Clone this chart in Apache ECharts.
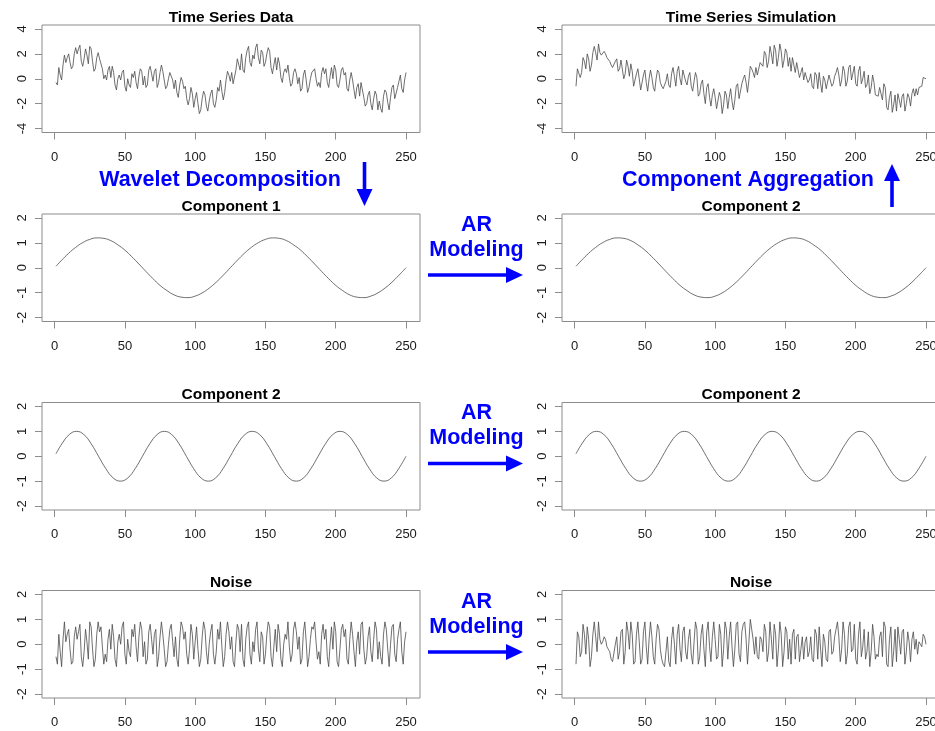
<!DOCTYPE html>
<html>
<head>
<meta charset="utf-8">
<script src="https://cdn.jsdelivr.net/npm/echarts@6/dist/echarts.min.js"></script>
<style>
html,body{margin:0;padding:0;background:#fff;}
#chart{width:935px;height:731px;}
</style>
</head>
<body>
<div id="chart"></div>
<script>
// ---------------- data ----------------
const xTicks = [0, 50, 100, 150, 200, 250];
const yTicksSeries = [-4, -2, 0, 2, 4];
const yTicksComp = [-2, -1, 0, 1, 2];

const panelTitles = [
  'Time Series Data', 'Time Series Simulation',
  'Component 1', 'Component 2',
  'Component 2', 'Component 2',
  'Noise', 'Noise'
];

// time steps of component 1
const comp1T = [1,5,10,15,20,25,30,35,40,45,50,55,60,65,70,75,80,85,90,95,100,105,110,115,120,125,
  130,135,140,145,150,155,160,165,170,175,180,185,190,195,200,205,210,215,220,225,230,235,240,245,250];
const component1 = [0.06,0.30,0.58,0.82,1.01,1.14,1.20,1.18,1.09,0.92,0.71,0.44,0.15,-0.15,-0.44,-0.71,-0.92,
  -1.09,-1.18,-1.20,-1.14,-1.01,-0.82,-0.58,-0.30,0.00,0.30,0.58,0.82,1.01,1.14,1.20,1.18,1.09,0.92,0.71,
  0.44,0.15,-0.15,-0.44,-0.71,-0.92,-1.09,-1.18,-1.20,-1.14,-1.01,-0.82,-0.58,-0.30,0.00];

// time steps of component 2
const comp2T = [1,5.21,10.42,15.63,20.83,26.04,31.25,36.46,41.67,46.88,52.08,57.29,62.5,67.71,72.92,78.13,
  83.33,88.54,93.75,98.96,104.17,109.38,114.58,119.79,125,130.21,135.42,140.63,145.83,151.04,156.25,161.46,
  166.67,171.88,177.08,182.29,187.5,192.71,197.92,203.13,208.33,213.54,218.75,223.96,229.17,234.38,239.58,
  244.79,250];
const component2 = [0.10,0.50,0.87,1.00,0.87,0.50,0.00,-0.50,-0.87,-1.00,-0.87,-0.50,0.00,0.50,0.87,1.00,
  0.87,0.50,0.00,-0.50,-0.87,-1.00,-0.87,-0.50,0.00,0.50,0.87,1.00,0.87,0.50,0.00,-0.50,-0.87,-1.00,-0.87,
  -0.50,0.00,0.50,0.87,1.00,0.87,0.50,0.00,-0.50,-0.87,-1.00,-0.87,-0.50,0.00];

// observed series, t = 1..250
const seriesData = [
  -0.3,-0.5,0.9,0.3,-0.1,1.1,1.9,1.3,1.7,2.0,
  1.3,0.8,1.0,2.0,2.5,2.0,2.4,2.7,1.4,1.0,
  1.6,2.4,1.9,1.2,2.6,2.4,1.4,0.6,0.8,1.7,
  2.1,1.6,1.7,0.8,0.0,0.3,-0.1,0.7,1.0,0.1,
  1.0,0.5,-0.5,-0.9,0.0,0.3,-0.1,0.5,0.7,-0.6,
  -1.0,0.0,-0.5,-0.7,0.4,0.1,0.6,-0.3,-0.8,0.2,
  0.8,0.6,-0.5,0.2,-0.7,-0.5,0.7,1.0,0.4,-0.2,
  0.6,0.8,-0.7,-0.3,0.5,1.1,0.6,-0.1,-0.8,-0.6,
  0.0,0.5,0.6,-0.1,-0.8,-0.1,-1.1,-1.5,-0.5,0.1,
  -0.2,-0.8,-0.6,-1.6,-2.1,-1.6,-0.7,-1.2,-2.3,-1.6,
  -1.1,-2.0,-2.8,-2.5,-1.6,-1.0,-1.3,-2.2,-2.6,-1.8,
  -1.2,-0.9,-2.0,-2.3,-1.7,-0.7,-1.0,-0.1,-1.0,-1.7,
  -1.1,-0.1,0.6,0.3,-0.2,0.5,-0.4,-0.4,0.7,1.6,
  1.5,0.7,2.0,0.7,0.5,1.7,2.3,2.6,1.3,1.0,
  1.9,1.6,2.5,2.8,1.7,1.2,2.3,2.1,1.0,1.3,
  2.0,2.5,2.2,0.9,0.4,1.1,1.7,0.7,1.7,1.2,
  0.1,-0.3,0.5,0.8,0.5,1.1,0.1,-0.6,-0.4,0.5,
  0.8,0.4,-0.4,0.1,-1.0,-0.8,0.3,0.7,-0.1,-1.1,
  -0.7,0.0,0.5,0.5,0.8,0.0,-0.6,-0.3,-0.7,0.5,
  0.9,0.4,0.8,-0.3,-0.7,0.2,0.9,0.0,1.1,0.7,
  -0.5,-0.7,-0.1,0.7,0.9,0.3,0.5,-0.8,-1.0,-0.1,
  0.5,-0.1,-0.9,-1.6,-0.7,-0.4,-1.4,-0.3,-0.3,-1.5,
  -2.2,-2.0,-1.3,-1.0,-2.0,-2.5,-1.6,-1.0,-1.3,-2.5,
  -1.8,-2.4,-2.7,-1.4,-0.9,-1.1,-1.9,-2.5,-1.5,-0.7,
  -0.5,-1.6,-1.7,-0.7,-0.2,0.3,-0.8,-1.1,-0.1,0.5
];

// simulated series, t = 1..250
const seriesSim = [
  -0.6,0.8,0.8,0.1,0.5,1.7,1.4,0.8,2.0,1.6,
  0.6,1.1,2.1,2.6,2.1,1.5,2.8,2.1,1.9,2.0,
  2.2,2.0,1.7,1.6,1.4,1.1,0.9,0.8,1.4,1.6,
  0.6,0.8,1.5,1.5,0.0,0.4,1.5,1.0,0.2,1.2,
  0.6,-0.6,-0.6,0.4,0.8,0.0,-0.9,-0.8,0.3,0.7,
  -0.3,-1.0,0.0,0.7,0.1,-0.7,-1.0,0.0,0.7,0.5,
  -0.3,-0.6,-0.8,-0.8,-0.2,0.4,-0.5,-0.7,0.4,0.9,
  0.2,-0.6,0.6,1.0,0.0,-0.5,0.7,0.8,-0.2,-0.5,
  0.2,0.5,-0.6,-1.0,-0.2,0.5,0.1,-1.4,-1.2,-0.4,
  -0.1,-1.2,-2.0,-0.7,-0.4,-1.5,-2.2,-1.3,-0.8,-1.5,
  -2.4,-2.3,-1.1,-1.5,-2.8,-2.1,-1.0,-1.3,-2.4,-1.5,
  -0.8,-1.8,-2.5,-1.7,-0.6,-0.4,-1.6,-1.7,-0.4,0.0,
  0.3,-0.3,-1.1,-0.1,1.0,0.8,0.5,0.1,0.9,0.3,
  0.3,1.3,1.4,1.0,2.2,2.0,0.9,1.4,2.6,2.0,
  1.2,2.7,2.3,1.0,1.7,2.8,2.2,0.9,1.5,2.4,
  2.1,1.0,1.7,0.6,1.7,1.8,0.5,1.3,1.3,0.1,
  0.5,0.9,-0.1,0.5,0.6,-0.3,-0.1,0.4,-0.6,-0.8,
  0.5,0.3,-0.8,0.5,-0.4,-1.1,0.2,-0.1,-0.8,-0.9,
  0.3,0.4,-0.6,-0.4,0.2,0.5,0.9,0.3,-0.6,-0.1,
  1.0,0.6,-0.6,-0.2,0.9,1.1,-0.1,0.0,1.0,-0.4,
  -0.6,0.6,1.0,-0.4,0.0,0.6,-0.7,-0.5,0.3,-1.2,
  -0.7,0.3,-0.3,-1.3,-1.2,-1.4,-0.7,-0.6,-1.7,-0.4,
  -0.7,-2.3,-2.5,-1.5,-1.0,-2.7,-2.1,-1.3,-2.6,-1.2,
  -1.7,-2.3,-1.4,-1.2,-2.6,-2.0,-1.2,-1.5,-2.2,-1.2,
  -0.8,-1.4,-0.8,-1.3,-0.7,-0.6,-0.6,0.1,0.1,0.0
];

// noise of the observed series, t = 1..250
const noiseData = [
  -0.5,-0.8,0.4,-0.3,-0.9,0.2,0.9,0.1,0.4,0.6,
  -0.2,-0.8,-0.7,0.3,0.7,0.2,0.5,0.8,-0.5,-0.9,
  -0.3,0.6,0.1,-0.6,0.9,0.7,-0.2,-0.9,-0.6,0.4,
  0.9,0.5,0.7,-0.1,-0.8,-0.4,-0.7,0.2,0.6,-0.2,
  0.8,0.3,-0.6,-0.9,0.1,0.4,0.0,0.7,0.9,-0.4,
  -0.8,0.2,-0.3,-0.5,0.6,0.3,0.8,-0.1,-0.7,0.3,
  0.9,0.6,-0.5,0.1,-0.8,-0.6,0.5,0.8,0.2,-0.4,
  0.4,0.6,-0.9,-0.5,0.3,0.9,0.4,-0.2,-0.9,-0.7,
  0.0,0.6,0.8,0.1,-0.5,0.3,-0.6,-0.9,0.2,0.9,
  0.7,0.2,0.5,-0.4,-0.8,-0.2,0.8,0.4,-0.6,0.1,
  0.7,-0.2,-0.9,-0.6,0.3,0.9,0.6,-0.3,-0.8,0.0,
  0.5,0.8,-0.4,-0.8,-0.3,0.6,0.2,0.9,-0.1,-0.9,
  -0.5,0.4,0.9,0.5,-0.2,0.3,-0.7,-0.9,0.1,0.8,
  0.6,-0.3,0.8,-0.6,-0.9,0.2,0.7,0.9,-0.4,-0.8,
  0.1,-0.3,0.6,0.9,-0.2,-0.7,0.5,0.3,-0.8,-0.4,
  0.4,0.9,0.7,-0.5,-0.9,-0.1,0.6,-0.3,0.8,0.4,
  -0.6,-0.9,0.0,0.4,0.2,0.9,-0.1,-0.7,-0.4,0.6,
  0.9,0.5,-0.2,0.3,-0.8,-0.6,0.5,0.9,0.1,-0.9,
  -0.5,0.2,0.7,0.6,0.9,0.1,-0.6,-0.3,-0.8,0.4,
  0.8,0.2,0.6,-0.5,-0.9,0.0,0.7,-0.2,0.9,0.5,
  -0.7,-0.9,-0.2,0.6,0.8,0.3,0.6,-0.6,-0.8,0.2,
  0.9,0.4,-0.3,-0.9,0.1,0.5,-0.4,0.8,0.9,-0.2,
  -0.8,-0.5,0.3,0.7,-0.3,-0.7,0.2,0.9,0.6,-0.6,
  0.1,-0.5,-0.8,0.4,0.9,0.6,-0.2,-0.9,0.0,0.7,
  0.8,-0.4,-0.7,0.2,0.6,0.9,-0.3,-0.8,0.1,0.5
];

// noise of the simulated series, t = 1..250
const noiseSim = [
  -0.8,0.5,0.3,-0.5,-0.3,0.8,0.4,-0.4,0.7,0.2,
  -0.9,-0.5,0.4,0.9,0.3,-0.3,0.9,0.2,0.0,0.1,
  0.3,0.2,-0.1,-0.2,-0.3,-0.6,-0.7,-0.7,0.0,0.3,
  -0.6,-0.3,0.5,0.6,-0.8,-0.3,0.9,0.5,-0.2,0.9,
  0.4,-0.8,-0.7,0.4,0.9,0.1,-0.8,-0.6,0.5,0.9,
  -0.1,-0.8,0.2,0.9,0.3,-0.5,-0.8,0.2,0.8,0.6,
  -0.2,-0.6,-0.8,-0.9,-0.3,0.3,-0.7,-0.9,0.2,0.7,
  0.0,-0.8,0.4,0.8,-0.2,-0.7,0.5,0.7,-0.3,-0.6,
  0.2,0.6,-0.4,-0.8,0.1,0.9,0.6,-0.8,-0.5,0.4,
  0.8,-0.2,-0.9,0.5,0.9,-0.1,-0.7,0.3,0.9,0.2,
  -0.6,-0.5,0.8,0.4,-0.9,-0.2,0.9,0.6,-0.6,0.3,
  0.9,-0.1,-0.9,-0.2,0.8,0.9,-0.4,-0.7,0.5,0.8,
  0.9,0.2,-0.8,0.1,1.0,0.6,0.2,-0.4,0.3,-0.5,
  -0.6,0.3,0.2,-0.3,0.8,0.5,-0.7,-0.3,0.9,0.2,
  -0.6,0.8,0.4,-0.9,-0.2,0.9,0.4,-0.9,-0.3,0.7,
  0.5,-0.6,0.2,-0.8,0.4,0.6,-0.6,0.3,0.4,-0.7,
  -0.2,0.3,-0.6,0.1,0.3,-0.5,-0.3,0.3,-0.6,-0.7,
  0.6,0.4,-0.6,0.7,-0.2,-0.9,0.4,0.1,-0.6,-0.7,
  0.5,0.6,-0.4,-0.3,0.3,0.6,0.9,0.3,-0.7,-0.2,
  0.9,0.4,-0.8,-0.4,0.7,0.9,-0.3,-0.2,0.8,-0.6,
  -0.8,0.4,0.9,-0.5,-0.1,0.6,-0.6,-0.3,0.5,-0.9,
  -0.3,0.8,0.3,-0.6,-0.4,-0.5,0.3,0.5,-0.5,0.9,
  0.7,-0.8,-0.9,0.2,0.7,-0.9,-0.3,0.6,-0.7,0.7,
  0.2,-0.4,0.5,0.6,-0.8,-0.3,0.5,0.1,-0.7,0.2,
  0.5,-0.2,0.2,-0.4,0.1,0.0,-0.1,0.4,0.3,0.0
];

const annotations = {
  decomposition: 'Wavelet Decomposition',
  aggregation: 'Component Aggregation',
  ar: 'AR',
  modeling: 'Modeling'
};

// ---------------- layout / style ----------------
const FONT = '"Liberation Sans", Arial, Helvetica, sans-serif';
const BLUE = '#0000ff';
const colLeft = [42, 562];
const boxW = 378;
const rowTop = [25, 214, 402.5, 590.5];
const boxH = 107.5;
const xMin = -8.96, xMax = 259.96;

function pairs(xs, ys) { return ys.map((v, i) => [xs[i], v]); }
const tIndex = seriesData.map((_, i) => i + 1);

const panels = [
  { data: pairs(tIndex, seriesData), lim: 4, ticks: yTicksSeries, smooth: false },
  { data: pairs(tIndex, seriesSim), lim: 4, ticks: yTicksSeries, smooth: false },
  { data: pairs(comp1T, component1), lim: 2, ticks: yTicksComp, smooth: true },
  { data: pairs(comp1T, component1), lim: 2, ticks: yTicksComp, smooth: true },
  { data: pairs(comp2T, component2), lim: 2, ticks: yTicksComp, smooth: true },
  { data: pairs(comp2T, component2), lim: 2, ticks: yTicksComp, smooth: true },
  { data: pairs(tIndex, noiseData), lim: 2, ticks: yTicksComp, smooth: false },
  { data: pairs(tIndex, noiseSim), lim: 2, ticks: yTicksComp, smooth: false }
];

const grids = [], xAxes = [], yAxes = [], series = [], titles = [];
panels.forEach((p, i) => {
  const row = Math.floor(i / 2), col = i % 2;
  const left = colLeft[col], top = rowTop[row];
  grids.push({
    left: left, top: top, width: boxW, height: boxH,
    show: true, borderColor: '#8c8c8c', borderWidth: 1, backgroundColor: 'transparent',
    containLabel: false, outerBoundsMode: 'none'
  });
  xAxes.push({
    type: 'value', gridIndex: i, min: xMin, max: xMax, position: 'bottom',
    axisLine: { show: false, onZero: false }, splitLine: { show: false },
    axisTick: { show: true, customValues: xTicks, length: 7, inside: false,
      lineStyle: { color: '#8c8c8c', width: 1 } },
    axisLabel: { show: true, customValues: xTicks, margin: 18, fontSize: 13,
      fontFamily: FONT, color: '#1a1a1a' }
  });
  const pad = p.lim * 2 * 0.04;
  yAxes.push({
    type: 'value', gridIndex: i, min: -p.lim - pad, max: p.lim + pad, position: 'left',
    axisLine: { show: false, onZero: false }, splitLine: { show: false },
    axisTick: { show: true, customValues: p.ticks, length: 7, inside: false,
      lineStyle: { color: '#8c8c8c', width: 1 } },
    axisLabel: { show: true, customValues: p.ticks, rotate: 90, margin: 13, fontSize: 13,
      fontFamily: FONT, color: '#1a1a1a' }
  });
  series.push({
    type: 'line', xAxisIndex: i, yAxisIndex: i, data: p.data,
    symbol: 'none', smooth: p.smooth ? 0.45 : false,
    lineStyle: { color: '#4a4a4a', width: 0.8 },
    emphasis: { disabled: true }, silent: true
  });
  titles.push({
    text: panelTitles[i], left: left + boxW / 2, top: top - 7.5,
    textAlign: 'center', textVerticalAlign: 'middle', padding: 0,
    textStyle: { fontSize: 15.5, fontWeight: 'bold', color: '#000', fontFamily: FONT }
  });
});

// annotation helpers
function blueText(txt, x, y) {
  return { type: 'text', x: x, y: y, silent: true,
    style: { text: txt, fill: BLUE, fontSize: 21.5, fontWeight: 'bold', fontFamily: FONT,
      align: 'center', verticalAlign: 'middle' } };
}
function hArrow(x0, x1, y) {
  return [
    { type: 'line', silent: true, shape: { x1: x0, y1: y, x2: x1 - 14, y2: y },
      style: { stroke: BLUE, lineWidth: 3.6 } },
    { type: 'polygon', silent: true, shape: { points: [[x1 - 17, y - 8], [x1, y], [x1 - 17, y + 8]] },
      style: { fill: BLUE } }
  ];
}
function vArrow(x, yTail, yTip) {
  const dir = yTip > yTail ? 1 : -1;
  return [
    { type: 'line', silent: true, shape: { x1: x, y1: yTail, x2: x, y2: yTip - dir * 14 },
      style: { stroke: BLUE, lineWidth: 3.6 } },
    { type: 'polygon', silent: true,
      shape: { points: [[x - 8, yTip - dir * 17], [x, yTip], [x + 8, yTip - dir * 17]] },
      style: { fill: BLUE } }
  ];
}

const graphics = [
  blueText(annotations.decomposition, 220, 180.5),
  ...vArrow(364.5, 162, 206),
  blueText(annotations.aggregation, 748, 180),
  ...vArrow(892, 207, 164)
];
const arRows = [0, 188.5, 377];
arRows.forEach(dy => {
  graphics.push(blueText(annotations.ar, 476.5, 225 + dy));
  graphics.push(blueText(annotations.modeling, 476.5, 250 + dy));
  graphics.push(...hArrow(428, 523, 275 + dy));
});

const chart = echarts.init(document.getElementById('chart'), null, { renderer: 'canvas' });
chart.setOption({
  animation: false,
  backgroundColor: '#ffffff',
  title: titles,
  grid: grids,
  xAxis: xAxes,
  yAxis: yAxes,
  series: series,
  graphic: { elements: graphics }
});
</script>
</body>
</html>
